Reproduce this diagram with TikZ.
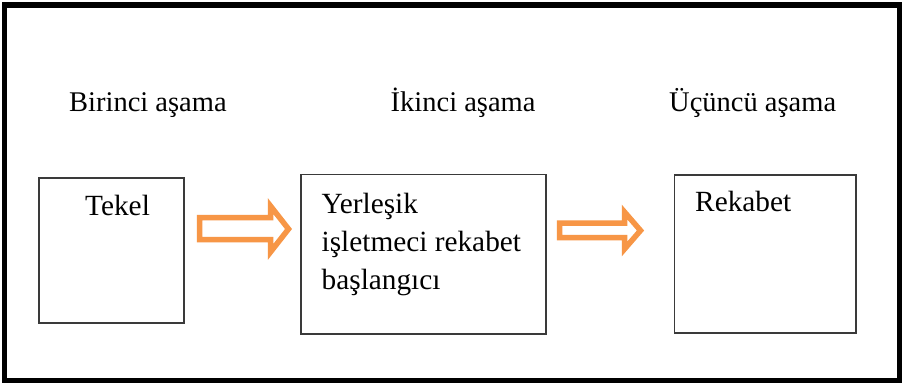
\documentclass[tikz,border=0pt]{standalone}
\usepackage{fontspec}
\setmainfont{Liberation Serif}
\definecolor{arroworange}{HTML}{F79646}
\definecolor{boxline}{HTML}{3A3A3A}
\tikzset{
  stagebox/.style={draw=boxline, line width=1.2pt},
  label/.style={font=\fontsize{28.5}{38}\selectfont, inner sep=0pt, anchor=base west},
  boxtext/.style={font=\fontsize{29.3}{38}\selectfont, inner sep=0pt, anchor=base west},
  blockarrow/.style={draw=arroworange, line width=5.5pt, line join=miter, fill=white},
}
\begin{document}
\begin{tikzpicture}[x=1pt, y=-1pt]
  % canvas and thick outer frame
  \fill[white] (0,0) rectangle (904,386);
  \useasboundingbox (0,0) rectangle (904,386);
  \draw[line width=5.5pt] (4.5,5) rectangle (899.5,380.5);

  % stage headings
  \node[label] (h1) at (69,111) {Birinci aşama};
  \node[label] (h2) at (390.5,111) {İkinci aşama};
  \node[label] (h3) at (669,111) {Üçüncü aşama};

  % stage boxes
  \draw[stagebox] (39,178) rectangle (184,323);
  \draw[stagebox] (301,174.5) rectangle (546,334);
  \draw[stagebox] (674.5,175) rectangle (856,333);

  % box texts
  \node[boxtext] (t1) at (85,215.5) {Tekel};
  \node[boxtext, align=left, anchor=north west] (t2) at (321.5,192.5)
    {Yerleşik\\işletmeci rekabet\\başlangıcı};
  \node[boxtext] (t3) at (695,211.5) {Rekabet};

  % first block arrow
  \draw[blockarrow] (199.5,217.5) -- (270.5,217.5) -- (270.5,206) -- (288.5,229)
    -- (270.5,252) -- (270.5,239.5) -- (199.5,239.5) -- cycle;

  % second block arrow
  \draw[blockarrow] (559.5,223) -- (624.5,223) -- (624.5,212) -- (640.5,230.5)
    -- (624.5,249) -- (624.5,237.5) -- (559.5,237.5) -- cycle;
\end{tikzpicture}
\end{document}
